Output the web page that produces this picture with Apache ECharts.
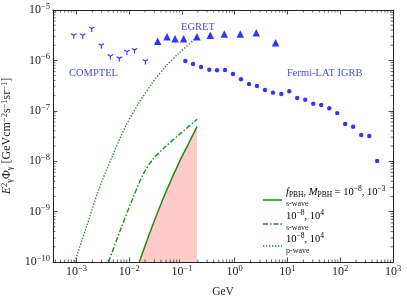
<!DOCTYPE html>
<html><head><meta charset="utf-8">
<script src="https://cdn.jsdelivr.net/npm/echarts@6/dist/echarts.min.js"></script>
<style>html,body{margin:0;padding:0;background:#fff}#c{width:407px;height:297px}</style>
</head><body><div id="c"></div>
<script>
// ---- data ----
const xMin = 3.6e-4, xMax = 1e3, yMin = 1e-10, yMax = 1e-5;
const comptelX = [8.9e-4, 1.32e-3, 1.95e-3, 2.97e-3, 4.4e-3, 6.5e-3, 9.1e-3, 1.26e-2, 2.03e-2];
const comptelY = [3.05e-6, 3.05e-6, 4.14e-6, 1.93e-6, 1.18e-6, 1.07e-6, 1.45e-6, 1.56e-6, 9.4e-7];
const egretX = [0.0347, 0.0522, 0.074, 0.1076, 0.193, 0.345, 0.635, 1.276, 2.56, 5.96];
const egretY = [2.39e-6, 2.95e-6, 2.70e-6, 2.70e-6, 2.95e-6, 3.15e-6, 3.34e-6, 3.34e-6, 3.55e-6, 2.24e-6];
const fermiX = [0.116, 0.162, 0.230, 0.330, 0.462, 0.655, 0.929, 1.315, 1.866, 2.64, 3.75, 5.31, 7.64, 10.8, 15.3, 21.7, 30.8, 43.6, 61.9, 87.7, 124, 176, 250, 354, 501];
const fermiY = [9.7e-7, 8.5e-7, 7.4e-7, 6.53e-7, 6.37e-7, 6.46e-7, 5.37e-7, 4.22e-7, 3.40e-7, 3.10e-7, 2.59e-7, 2.29e-7, 2.15e-7, 2.44e-7, 1.79e-7, 1.66e-7, 1.38e-7, 1.30e-7, 1.12e-7, 9.0e-8, 5.47e-8, 4.84e-8, 3.31e-8, 3.16e-8, 1.01e-8];
const sWave3X = [1.56e-2, 2.72e-2, 4.85e-2, 8.67e-2, 0.134, 0.193];
const sWave3Y = [1.01e-10, 5.01e-10, 2.31e-9, 9.08e-9, 2.26e-8, 4.84e-8];
const sWave4X = [4.09e-3, 6.81e-3, 1.14e-2, 1.88e-2, 2.91e-2, 4.50e-2, 8.67e-2, 0.193];
const sWave4Y = [1.01e-10, 4.32e-10, 1.70e-9, 5.75e-9, 1.14e-8, 1.80e-8, 3.31e-8, 6.78e-8];
const pWave4X = [9.29e-4, 1.48e-3, 2.64e-3, 4.74e-3, 8.47e-3, 1.51e-2, 2.72e-2, 4.85e-2, 8.67e-2, 0.193];
const pWave4Y = [1.01e-10, 4.32e-10, 2.69e-9, 1.23e-8, 4.84e-8, 1.41e-7, 3.52e-7, 7.50e-7, 1.38e-6, 2.87e-6];
const xDecades = [-4, -3, -2, -1, 0, 1, 2];
const yDecades = [-10, -9, -8, -7, -6];

// ---- helpers ----
const F = "'Liberation Serif', 'DejaVu Serif', serif";
const zip = (a, b) => a.map((v, i) => [v, b[i]]);
const M = '\u2212';
const TC = '#222';
function mkRich(fs, ss, lh, sl) {
  return {
    n: { fontFamily: F, fontSize: fs, lineHeight: lh, color: TC },
    sup: { fontFamily: F, fontSize: ss, lineHeight: sl, verticalAlign: 'top', color: TC },
    sub: { fontFamily: F, fontSize: ss, lineHeight: sl, verticalAlign: 'bottom', color: TC },
    i: { fontFamily: F, fontSize: fs, lineHeight: lh, fontStyle: 'italic', color: TC }
  };
}
const axRich = mkRich(12, 8.5, 16, 8);
const lgRich = mkRich(10.5, 7.5, 14, 7);
function powLabel(v) {
  const l = Math.log10(v), r = Math.round(l);
  if (Math.abs(l - r) > 1e-6) return '';
  return '{n|10}{sup|' + (r < 0 ? M + (-r) : r) + '}';
}
const minorX = [], minorY = [];
xDecades.forEach(n => { for (let k = 2; k <= 9; k++) { const v = k * Math.pow(10, n); if (v > xMin && v < xMax) minorX.push(v); } });
yDecades.forEach(n => { for (let k = 2; k <= 9; k++) { const v = k * Math.pow(10, n); if (v > yMin && v < yMax) minorY.push(v); } });
const tickData = minorX.map(v => [v, yMin, 0]).concat(minorY.map(v => [xMin, v, 1]));

const triDown = 'path://M4,8.7 L4,3.6 L-0.4,1.2 L0.6,-0.6 L5,1.8 L9.4,-0.6 L10.4,1.2 L6,3.6 L6,8.7 Z';
const green = '#1a8a1a';
const blue = '#0000ff';
const txtBlue = '#4a4ae0';

const axisCommon = {
  type: 'log', logBase: 10,
  axisLine: { show: true, lineStyle: { color: '#222', width: 1 } },
  axisTick: { show: true, inside: true, length: 4.5, lineStyle: { color: '#222', width: 0.8 } },
  splitLine: { show: false },
  minorTick: { show: false }
};

const chart = echarts.init(document.getElementById('c'), null, { renderer: 'canvas' });
chart.setOption({
  animation: false,
  backgroundColor: '#fff',
  grid: { left: 53, right: 14, top: 10, bottom: 35, containLabel: false, outerBoundsMode: 'none' },
  xAxis: [
    Object.assign({}, axisCommon, {
      min: xMin, max: xMax, position: 'bottom',
      name: 'GeV', nameLocation: 'middle', nameGap: 24,
      nameTextStyle: { fontFamily: F, fontSize: 11.5, color: TC },
      axisLabel: { formatter: powLabel, rich: axRich, margin: 2, showMinLabel: true }
    }),
    Object.assign({}, axisCommon, { min: xMin, max: xMax, position: 'top', axisLabel: { show: false } })
  ],
  yAxis: [
    Object.assign({}, axisCommon, {
      min: yMin, max: yMax, position: 'left',
      name: '{i|E}{sup|2}{sub|\u03b3}{n|\u03a6}{sub|\u03b3}{n| [GeVcm}{sup|' + M + '2}{n|s}{sup|' + M + '1}{n|sr}{sup|' + M + '1}{n|]}',
      nameLocation: 'middle', nameGap: 32, nameRotate: 90,
      nameTextStyle: { rich: mkRich(12, 8.5, 14, 7) },
      axisLabel: { formatter: powLabel, rich: axRich, margin: 3 }
    }),
    Object.assign({}, axisCommon, { min: yMin, max: yMax, position: 'right', axisLabel: { show: false } })
  ],
  series: [
    { name: 'ticks', type: 'custom', xAxisIndex: 0, yAxisIndex: 0, silent: true, z: 10,
      data: tickData,
      encode: { x: 0, y: 1 },
      renderItem: function (params, api) {
        const t = api.value(2), L = 2.5;
        const st = { stroke: '#222', lineWidth: 0.7 };
        if (t === 0) {
          const b = api.coord([api.value(0), yMin]), tp = api.coord([api.value(0), yMax]);
          return { type: 'group', children: [
            { type: 'line', shape: { x1: b[0], y1: b[1], x2: b[0], y2: b[1] - L }, style: st },
            { type: 'line', shape: { x1: tp[0], y1: tp[1], x2: tp[0], y2: tp[1] + L }, style: st }
          ] };
        }
        const l = api.coord([xMin, api.value(1)]), r = api.coord([xMax, api.value(1)]);
        return { type: 'group', children: [
          { type: 'line', shape: { x1: l[0], y1: l[1], x2: l[0] + L, y2: l[1] }, style: st },
          { type: 'line', shape: { x1: r[0], y1: r[1], x2: r[0] - L, y2: r[1] }, style: st }
        ] };
      }
    },
    { name: 'fill', type: 'line', data: zip(sWave3X, sWave3Y), smooth: 0.3, symbol: 'none',
      lineStyle: { width: 0 }, areaStyle: { color: '#ffcaca', opacity: 1, origin: 'start' }, z: 1 },
    { name: 'sWave3', type: 'line', data: zip(sWave3X, sWave3Y), smooth: 0.3, symbol: 'none',
      lineStyle: { color: green, width: 1.5 }, z: 3 },
    { name: 'sWave4', type: 'line', data: zip(sWave4X, sWave4Y), smooth: 0.3, symbol: 'none',
      lineStyle: { color: green, width: 1.4, type: [5, 2, 1.5, 2] }, z: 3 },
    { name: 'pWave4', type: 'line', data: zip(pWave4X, pWave4Y), smooth: 0.3, symbol: 'none',
      lineStyle: { color: green, width: 1.3, type: [1.4, 1.6] }, z: 3 },
    { name: 'COMPTEL', type: 'scatter', data: zip(comptelX, comptelY), symbol: triDown, symbolSize: [6, 5.5],
      itemStyle: { color: blue }, z: 4 },
    { name: 'EGRET', type: 'scatter', data: zip(egretX, egretY), symbol: 'triangle', symbolSize: 7.5,
      itemStyle: { color: blue }, z: 4 },
    { name: 'Fermi', type: 'scatter', data: zip(fermiX, fermiY), symbol: 'circle', symbolSize: 4.4,
      itemStyle: { color: blue }, z: 4 }
  ],
  graphic: [
    { type: 'text', x: 69, y: 73, style: { text: 'COMPTEL', fill: txtBlue, fontFamily: F, fontSize: 10.5, verticalAlign: 'middle' } },
    { type: 'text', x: 181, y: 27, style: { text: 'EGRET', fill: txtBlue, fontFamily: F, fontSize: 10.5, verticalAlign: 'middle' } },
    { type: 'text', x: 287, y: 73, style: { text: 'Fermi-LAT IGRB', fill: txtBlue, fontFamily: F, fontSize: 10.5, verticalAlign: 'middle' } },
    // legend
    { type: 'line', shape: { x1: 263, y1: 200, x2: 282, y2: 200 }, style: { stroke: green, lineWidth: 1.5 } },
    { type: 'line', shape: { x1: 263, y1: 224, x2: 282, y2: 224 }, style: { stroke: green, lineWidth: 1.4, lineDash: [5, 2, 1.5, 2] } },
    { type: 'line', shape: { x1: 263, y1: 246, x2: 282, y2: 246 }, style: { stroke: green, lineWidth: 1.3, lineDash: [1.4, 1.6] } },
    { type: 'text', x: 286, y: 192, style: { text: '{i|f}{sub|PBH}{n|, }{i|M}{sub|PBH}{n| = 10}{sup|' + M + '8}{n|, 10}{sup|' + M + '3}', rich: lgRich, verticalAlign: 'middle' } },
    { type: 'text', x: 286, y: 204, style: { text: 's-wave', fontFamily: F, fontSize: 8, fill: TC, verticalAlign: 'middle' } },
    { type: 'text', x: 286, y: 216, style: { text: '{n|10}{sup|' + M + '8}{n|, 10}{sup|4}', rich: lgRich, verticalAlign: 'middle' } },
    { type: 'text', x: 286, y: 228, style: { text: 's-wave', fontFamily: F, fontSize: 8, fill: TC, verticalAlign: 'middle' } },
    { type: 'text', x: 286, y: 239, style: { text: '{n|10}{sup|' + M + '8}{n|, 10}{sup|4}', rich: lgRich, verticalAlign: 'middle' } },
    { type: 'text', x: 286, y: 251, style: { text: 'p-wave', fontFamily: F, fontSize: 8, fill: TC, verticalAlign: 'middle' } }
  ]
});
</script></body></html>
